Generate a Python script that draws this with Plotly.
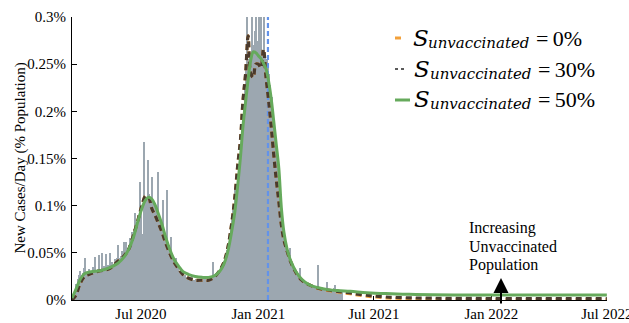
import pandas as pd
import plotly.graph_objects as go

# Reported new cases per day, % of population, in 2-day bins starting 2020-03-15
case_start = "2020-03-15"
new_cases_pct = [
    0.001, 0.004, 0.011, 0.017, 0.022, 0.026, 0.031, 0.027, 0.029, 0.034,
    0.044, 0.028, 0.031, 0.033, 0.027, 0.030, 0.035, 0.029, 0.046, 0.031,
    0.033, 0.048, 0.030, 0.050, 0.034, 0.036, 0.049, 0.033, 0.037, 0.050,
    0.036, 0.040, 0.038, 0.043, 0.041, 0.045, 0.058, 0.044, 0.047, 0.052,
    0.061, 0.050, 0.062, 0.055, 0.058, 0.066, 0.063, 0.072, 0.075, 0.092,
    0.082, 0.090, 0.088, 0.125, 0.098, 0.070, 0.167, 0.110, 0.106, 0.148,
    0.112, 0.105, 0.130, 0.104, 0.100, 0.098, 0.095, 0.136, 0.090, 0.085,
    0.082, 0.106, 0.075, 0.070, 0.117, 0.062, 0.058, 0.067, 0.050, 0.047,
    0.042, 0.044, 0.036, 0.034, 0.031, 0.030, 0.028, 0.026, 0.027, 0.024,
    0.023, 0.024, 0.022, 0.022, 0.027, 0.021, 0.021, 0.022, 0.020, 0.021,
    0.021, 0.022, 0.020, 0.022, 0.023, 0.021, 0.023, 0.024, 0.023, 0.025,
    0.040, 0.026, 0.027, 0.029, 0.030, 0.032, 0.034, 0.036, 0.038, 0.041,
    0.047, 0.053, 0.060, 0.068, 0.077, 0.086, 0.097, 0.118, 0.110, 0.120,
    0.132, 0.150, 0.165, 0.185, 0.205, 0.225, 0.245, 0.310, 0.255, 0.262,
    0.262, 0.320, 0.270, 0.285, 0.330, 0.275, 0.315, 0.268, 0.325, 0.262,
    0.310, 0.258, 0.255, 0.250, 0.240, 0.228, 0.215, 0.200, 0.185, 0.170,
    0.158, 0.145, 0.128, 0.112, 0.095, 0.082, 0.070, 0.060, 0.052, 0.046,
    0.055, 0.040, 0.036, 0.032, 0.029, 0.027, 0.025, 0.024, 0.034, 0.022,
    0.021, 0.020, 0.019, 0.018, 0.017, 0.016, 0.016, 0.015, 0.014, 0.014,
    0.013, 0.013, 0.037, 0.013, 0.012, 0.012, 0.011, 0.012, 0.011, 0.019,
    0.011, 0.010, 0.011, 0.010, 0.010, 0.013, 0.016, 0.010, 0.009, 0.011,
    0.009, 0.010,
]

# Model trajectories for three unvaccinated-susceptible fractions
model_dates = [
    "2020-03-15", "2020-03-21", "2020-03-28", "2020-04-04", "2020-04-14",
    "2020-04-28", "2020-05-12", "2020-05-26", "2020-06-05", "2020-06-12",
    "2020-06-19", "2020-06-26", "2020-07-03", "2020-07-08", "2020-07-13",
    "2020-07-18", "2020-07-23", "2020-07-28", "2020-08-03", "2020-08-09",
    "2020-08-15", "2020-08-22", "2020-08-29", "2020-09-05", "2020-09-14",
    "2020-09-24", "2020-10-05", "2020-10-15", "2020-10-25", "2020-11-02",
    "2020-11-08", "2020-11-14", "2020-11-20", "2020-11-25", "2020-11-30",
    "2020-12-04", "2020-12-08", "2020-12-12", "2020-12-16", "2020-12-20",
    "2020-12-24", "2020-12-28", "2021-01-01", "2021-01-05", "2021-01-09",
    "2021-01-13", "2021-01-17", "2021-01-21", "2021-01-25", "2021-01-29",
    "2021-02-02", "2021-02-06", "2021-02-10", "2021-02-15", "2021-02-21",
    "2021-03-01", "2021-03-10", "2021-03-22", "2021-04-05", "2021-04-20",
    "2021-05-05", "2021-05-25", "2021-06-20", "2021-07-20", "2021-08-25",
    "2021-10-01", "2021-11-15", "2022-01-01", "2022-03-01", "2022-05-01",
    "2022-07-01",
]
s_unvacc_0 = [
    0.000, 0.005, 0.018, 0.025, 0.028, 0.031, 0.033, 0.041, 0.047, 0.054,
    0.068, 0.084, 0.101, 0.110, 0.109, 0.097, 0.090, 0.082, 0.072, 0.060,
    0.050, 0.040, 0.033, 0.027, 0.023, 0.021, 0.021, 0.021, 0.025, 0.032,
    0.040, 0.055, 0.080, 0.108, 0.145, 0.170, 0.212, 0.240, 0.280, 0.240,
    0.236, 0.250, 0.250, 0.246, 0.266, 0.236, 0.212, 0.185, 0.155, 0.128,
    0.105, 0.080, 0.064, 0.052, 0.040, 0.029, 0.021, 0.016, 0.012, 0.010,
    0.0085, 0.0065, 0.0040, 0.0022, 0.0013, 0.0009, 0.0007, 0.0006, 0.0005, 0.0005,
    0.0005,
]
s_unvacc_30 = [
    0.000, 0.005, 0.018, 0.025, 0.028, 0.031, 0.033, 0.041, 0.047, 0.054,
    0.068, 0.084, 0.101, 0.110, 0.109, 0.097, 0.090, 0.082, 0.072, 0.060,
    0.050, 0.040, 0.033, 0.027, 0.023, 0.021, 0.021, 0.021, 0.025, 0.032,
    0.040, 0.055, 0.080, 0.108, 0.145, 0.170, 0.212, 0.240, 0.280, 0.240,
    0.236, 0.250, 0.250, 0.246, 0.266, 0.236, 0.212, 0.185, 0.155, 0.128,
    0.105, 0.080, 0.064, 0.052, 0.040, 0.029, 0.021, 0.016, 0.0124, 0.0106,
    0.0092, 0.0074, 0.0050, 0.0032, 0.0023, 0.0019, 0.0017, 0.0016, 0.0015, 0.0015,
    0.0015,
]
s_unvacc_50 = [
    0.002, 0.011, 0.022, 0.028, 0.030, 0.031, 0.034, 0.039, 0.046, 0.054,
    0.066, 0.083, 0.098, 0.106, 0.109, 0.107, 0.101, 0.092, 0.080, 0.066,
    0.054, 0.043, 0.036, 0.030, 0.027, 0.025, 0.024, 0.024, 0.026, 0.031,
    0.038, 0.051, 0.072, 0.093, 0.124, 0.152, 0.185, 0.210, 0.234, 0.254,
    0.263, 0.262, 0.259, 0.256, 0.251, 0.245, 0.232, 0.214, 0.190, 0.165,
    0.140, 0.098, 0.072, 0.054, 0.041, 0.030, 0.022, 0.016, 0.013, 0.011,
    0.010, 0.0092, 0.0078, 0.0068, 0.0060, 0.0056, 0.0054, 0.0053, 0.0052, 0.0052,
    0.0052,
]

marker_date = "2021-01-16"
x_range = ["2020-03-15", "2022-07-01 06:00"]
y_range = [0, 0.3]
x_tick_vals = ["2020-07-01", "2021-01-01", "2021-07-01", "2022-01-01", "2022-07-01"]
x_tick_text = ["Jul 2020", "Jan 2021", "Jul 2021", "Jan 2022", "Jul 2022"]
y_tick_vals = [0, 0.05, 0.1, 0.15, 0.2, 0.25, 0.3]
y_tick_text = ["0%", "0.05%", "0.1%", "0.15%", "0.2%", "0.25%", "0.3%"]
legend_pcts = ["0%", "30%", "50%"]

SERIF = "Liberation Serif"
MATH = "DejaVu Serif"
ORANGE = "#f2a03a"
DARK = "#4a3a2e"
GREEN = "#66aa5c"
BAR = "#9ca7b0"

W, H = 629, 323
ML, MR, MT, MB = 72, 22, 17, 23
PW, PH = W - ML - MR, H - MT - MB


def px(xp):
    return (xp - ML) / PW


def py(yp):
    return (H - MB - yp) / PH


def mid(baseline, size):
    # vertical centre of a single text line whose baseline sits at `baseline`
    return py(baseline - 0.34 * size - 1.5)


bar_dates = pd.date_range(case_start, periods=len(new_cases_pct), freq="2D")

fig = go.Figure()
fig.add_trace(go.Bar(
    x=bar_dates, y=new_cases_pct, width=2 * 86400000, offset=0,
    marker=dict(color=BAR, line=dict(width=0)), showlegend=False,
))
fig.add_trace(go.Scatter(
    x=[marker_date, marker_date], y=y_range, mode="lines",
    line=dict(color="#6393ea", width=2.2, dash="5px,3px"), showlegend=False,
))
fig.add_trace(go.Scatter(
    x=model_dates, y=s_unvacc_0, mode="lines", line_shape="spline",
    line=dict(color=ORANGE, width=3, dash="6px,4px"), showlegend=False,
))
fig.add_trace(go.Scatter(
    x=model_dates, y=s_unvacc_30, mode="lines", line_shape="spline",
    line=dict(color=DARK, width=3.2, dash="6px,4px"), showlegend=False,
))
fig.add_trace(go.Scatter(
    x=model_dates, y=s_unvacc_50, mode="lines", line_shape="spline",
    line=dict(color=GREEN, width=3), showlegend=False,
))

tick_font = dict(family=SERIF, size=15, color="black")
fig.update_xaxes(
    type="date", range=x_range, tickvals=x_tick_vals, ticktext=x_tick_text,
    ticks="inside", ticklen=4, tickcolor="black", tickwidth=1,
    showline=True, linecolor="black", linewidth=1, showgrid=False,
    zeroline=False, layer="below traces", tickfont=tick_font, automargin=False,
    ticklabeloverflow="allow",
)
fig.update_yaxes(
    range=y_range, tickvals=y_tick_vals, ticktext=y_tick_text,
    ticks="inside", ticklen=5, tickcolor="black", tickwidth=1,
    showline=True, linecolor="black", linewidth=1.2, showgrid=False,
    zeroline=False, layer="above traces", tickfont=tick_font, automargin=False,
    ticklabelstandoff=2, ticklabeloverflow="allow",
)

annotations = [
    dict(text="New Cases/Day (% Population)", x=px(20), y=py(158.5),
         xanchor="center", textangle=-90, font=dict(family=SERIF, size=15, color="black")),
]

# Legend: line sample, italic S, italic subscript, value
legend_rows = [
    dict(sym_y=38, base=47, sx=411, subx=426, eqx=534),
    dict(sym_y=69, base=78, sx=412, subx=428, eqx=536),
    dict(sym_y=100, base=108, sx=412, subx=428, eqx=536),
]
for row, pct in zip(legend_rows, legend_pcts):
    b = row["base"]
    annotations.append(dict(text="<i>S</i>", x=px(row["sx"]), y=mid(b, 23),
                            xanchor="left", font=dict(family=MATH, size=23, color="black")))
    annotations.append(dict(text="<i>unvaccinated</i>", x=px(row["subx"]), y=mid(b + 3, 15),
                            xanchor="left", font=dict(family=MATH, size=15, color="black")))
    annotations.append(dict(text="=\u2009" + pct, x=px(row["eqx"]), y=mid(b, 22),
                            xanchor="left", font=dict(family=SERIF, size=22, color="black")))

shapes = [
    dict(type="line", xref="paper", yref="paper", x0=px(395), x1=px(401),
         y0=py(legend_rows[0]["sym_y"]), y1=py(legend_rows[0]["sym_y"]),
         line=dict(color=ORANGE, width=3)),
    dict(type="line", xref="paper", yref="paper", x0=px(395), x1=px(407),
         y0=py(legend_rows[1]["sym_y"]), y1=py(legend_rows[1]["sym_y"]),
         line=dict(color="#5a5a5a", width=2, dash="dot")),
    dict(type="line", xref="paper", yref="paper", x0=px(395), x1=px(410),
         y0=py(legend_rows[2]["sym_y"]), y1=py(legend_rows[2]["sym_y"]),
         line=dict(color=GREEN, width=3)),
]

for line_text, base in [("Increasing", 235), ("Unvaccinated", 253.5), ("Population", 272)]:
    annotations.append(dict(text=line_text, x=px(467), y=mid(base, 16),
                            xanchor="left", font=dict(family=SERIF, size=16, color="black")))

# Upward arrow pointing at the rising tail curves
annotations.append(dict(
    x=px(501), y=py(278), ax=0, ay=27, axref="pixel", ayref="pixel",
    text="", showarrow=True,
    arrowhead=2, arrowsize=1.5, arrowwidth=2, arrowcolor="black",
))

for a in annotations:
    a.setdefault("xref", "paper")
    a.setdefault("yref", "paper")
    a.setdefault("showarrow", False)
    a.setdefault("yanchor", "middle")

fig.update_layout(
    width=W, height=H, margin=dict(l=ML, r=MR, t=MT, b=MB),
    paper_bgcolor="white", plot_bgcolor="white", bargap=0,
    annotations=annotations, shapes=shapes, showlegend=False,
)

fig.write_html("out.html")
